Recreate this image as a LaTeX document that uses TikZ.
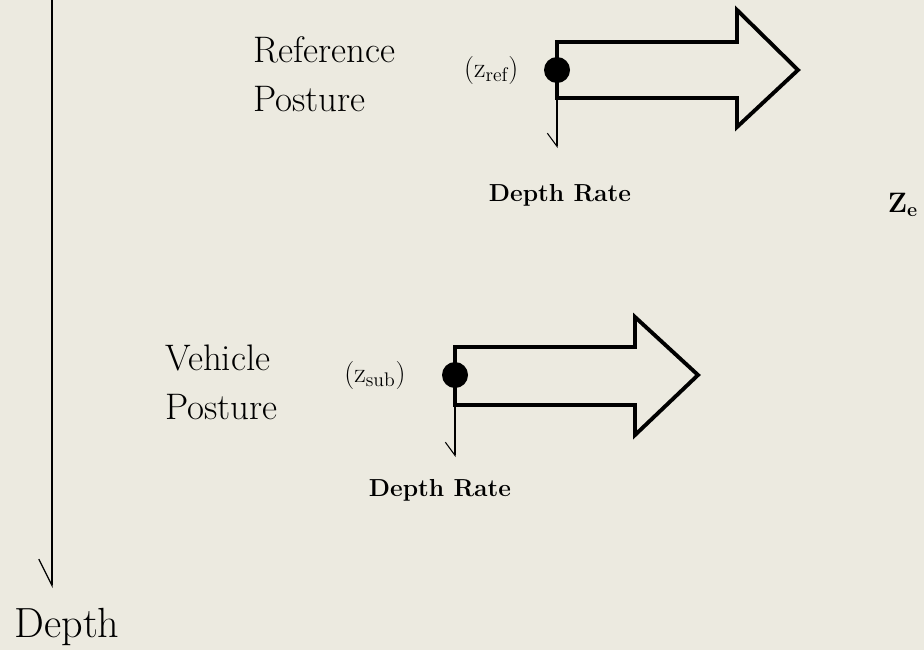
\documentclass[tikz,border=0pt]{standalone}
\usepackage{tikz}
\usetikzlibrary{arrows.meta,positioning}
\definecolor{paper}{RGB}{236,234,224}

\begin{document}
\begin{tikzpicture}[
    x=0.2mm, y=-0.2mm,
    node distance=5mm,
    posture/.style={align=left,anchor=west,font=\fontsize{21}{28}\selectfont,inner sep=0pt},
    rate/.style={font=\fontsize{14}{17}\selectfont\bfseries,inner sep=0pt},
    sym/.style={font=\fontsize{16}{19}\selectfont,inner sep=0pt},
    dot/.style={circle,fill=black,inner sep=0pt,minimum size=5.2mm},
    hollow/.style={draw=black,line width=2.2pt,line join=miter},
    drop/.style={-{Straight Barb[right,length=7.5pt,width=11pt]},draw=black,line width=0.6pt}
  ]
    \fill[paper] (0,0) rectangle (924,650);
    \useasboundingbox (0,0) rectangle (924,650);

    % depth axis
    \coordinate (axtop) at (52,0);
    \coordinate (axend) at (52,588);
    \draw[-{Straight Barb[right,length=15pt,width=15pt]},line width=0.7pt] (axtop) -- (axend);
    \node[font=\fontsize{24}{28}\selectfont,inner sep=0pt] (depth) at (67,627) {Depth};

    % reference posture
    \node[posture] (refpost) at (253,74) {Reference\\Posture};
    \node[dot] (refdot) at (557,70) {};
    \draw[hollow] (557,42) -- (737,42) -- (737,10) -- (798,70) -- (737,127) -- (737,98) -- (557,98) -- cycle;
    \coordinate (refend) at (557,148);
    \draw[drop] (refdot) -- (refend);
    \node[sym,left=5mm of refdot] (zref) {(z\textsubscript{ref})};
    \node[rate] (refrate) at (560,195) {Depth Rate};

    \node[font=\fontsize{16}{19}\selectfont,inner sep=0pt] (ze) at (903,205) {\textbf{Z}\textsubscript{\textbf{e}}};

    % vehicle posture
    \node[posture] (vehpost) at (165,382) {Vehicle\\Posture};
    \node[dot] (subdot) at (455,375) {};
    \draw[hollow] (455,347) -- (635,347) -- (635,317) -- (698,375) -- (635,435) -- (635,405) -- (455,405) -- cycle;
    \coordinate (subend) at (455,457);
    \draw[drop] (subdot) -- (subend);
    \node[sym] (zsub) at (375,375) {(z\textsubscript{sub})};
    \node[rate] (subrate) at (440,490) {Depth Rate};
\end{tikzpicture}
\end{document}
